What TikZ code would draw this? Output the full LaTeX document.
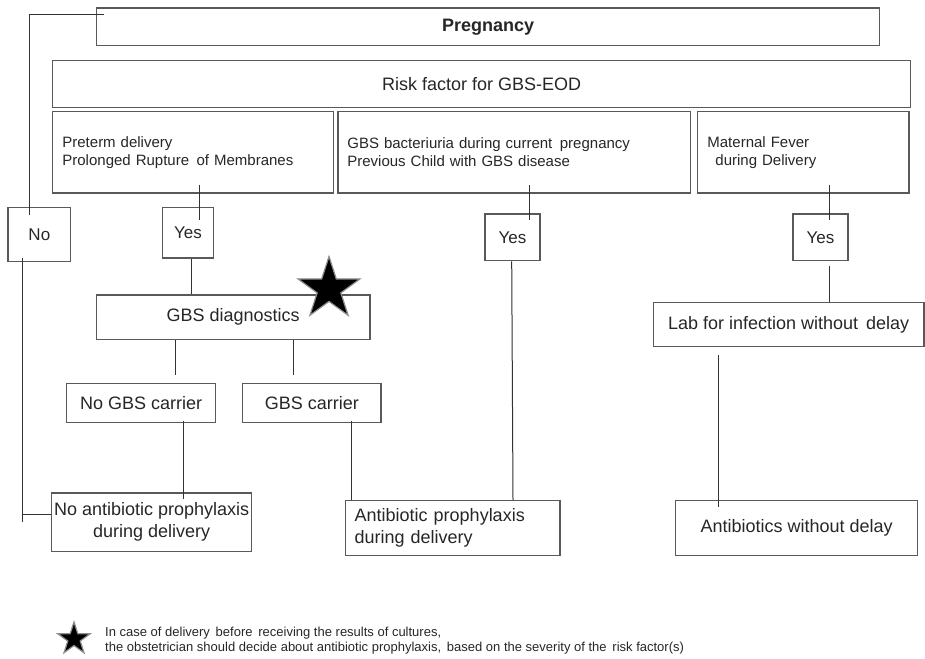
\documentclass[tikz,border=0pt]{standalone}
\usepackage{fontspec}
\setmainfont{Liberation Sans}
\usetikzlibrary{shapes.geometric}
\begin{document}
\begin{tikzpicture}[x=1pt,y=-1pt,
  box/.style={draw=black!65, line width=1.4pt, anchor=north west, inner sep=0pt,
    font=\fontsize{18}{22}\selectfont, text=black!85},
  topbox/.style={box, align=left, font=\fontsize{15}{18}\selectfont},
  conn/.style={draw=black!80, line width=1pt},
  starmark/.style={star, star points=5, star point ratio=2.618, inner sep=0pt,
    fill=black, draw=black!45, line width=1.2pt}
]
\useasboundingbox (0,0) rectangle (925,658);

% boxes
\node[box, minimum width=783.3pt, minimum height=37.7pt] (Preg) at (95.7,7.3) {\textbf{Pregnancy}};
\node[box, minimum width=858.3pt, minimum height=46.7pt] (Risk) at (51.7,60) {Risk factor for GBS-EOD};
\node[topbox, minimum width=281pt, minimum height=81.3pt, text width=261pt] (A) at (51.7,111)
  {Preterm delivery\\Prolonged Rupture \,of Membranes};
\node[topbox, minimum width=352.7pt, minimum height=81.6pt, text width=334pt] (B) at (337.3,110.7)
  {GBS bacteriuria during current \,pregnancy\\Previous Child with GBS disease};
\node[topbox, minimum width=211.6pt, minimum height=81.6pt, text width=191.6pt] (Cc) at (696.7,110.7)
  {Maternal Fever\\\hspace*{8pt}during Delivery};

\node[box, minimum width=62.7pt, minimum height=54.3pt, font=\fontsize{17}{20}\selectfont] (No) at (7.3,206.7) {No};
\node[box, minimum width=51pt, minimum height=50.6pt, font=\fontsize{17}{20}\selectfont] (Yes1) at (161.7,206.7) {Yes};
\node[box, minimum width=55pt, minimum height=46.7pt, font=\fontsize{17}{20}\selectfont] (Yes2) at (484.3,213.3) {Yes};
\node[box, minimum width=55pt, minimum height=46.7pt, font=\fontsize{17}{20}\selectfont] (Yes3) at (792.3,213.3) {Yes};

\node[box, minimum width=273.6pt, minimum height=44.4pt] (Diag) at (95.7,294.3) {GBS diagnostics};
\node[box, minimum width=149pt, minimum height=39pt] (NoC) at (66,382.7) {No GBS carrier};
\node[box, minimum width=138.3pt, minimum height=39pt] (C) at (242,382.7) {GBS carrier};
\node[box, minimum width=200pt, minimum height=58.4pt, align=center] (NoAB) at (51,492.3)
  {No antibiotic prophylaxis\\during delivery};
\node[box, minimum width=214.6pt, minimum height=55pt, text width=196pt, align=left] (AB) at (344.7,500)
  {Antibiotic prophylaxis\\during delivery};
\node[box, minimum width=270.6pt, minimum height=44pt] (Lab) at (652.7,301.7) {Lab for infection without \,delay};
\node[box, minimum width=241.7pt, minimum height=55pt] (AWD) at (675,500) {Antibiotics without delay};

% connectors
\draw[conn] ([shift={(8.6,7.7)}]Preg.north west) -| ([shift={(21.7,8.3)}]No.north west);
\draw[conn] ([shift={(15,-4.3)}]No.south west) -- ([shift={(-28.7,-30)}]NoAB.south west);
\draw[conn] ([shift={(-28.7,22)}]NoAB.north west) -- ([shift={(0,22)}]NoAB.north west);
\draw[conn] ([shift={(147.3,-9)}]A.south west) -- ([shift={(37.3,13.3)}]Yes1.north west);
\draw[conn] ([shift={(30,0)}]Yes1.south west) -- ([shift={(96,0)}]Diag.north west);
\draw[conn] ([shift={(80,0)}]Diag.south west) -- ([shift={(109.7,-7.7)}]NoC.north west);
\draw[conn] ([shift={(197.3,0)}]Diag.south west) -- ([shift={(51,-7.7)}]C.north west);
\draw[conn] ([shift={(117.3,-2.4)}]NoC.south west) -- ([shift={(132.3,6.7)}]NoAB.north west);
\draw[conn] ([shift={(109.7,-2.4)}]C.south west) -- ([shift={(7,0)}]AB.north west);
\draw[conn] ([shift={(191.7,-9)}]B.south west) -- ([shift={(44.7,6.7)}]Yes2.north west);
\draw[conn] ([shift={(27.4,0)}]Yes2.south west) -- ([shift={(168.3,0)}]AB.north west);
\draw[conn] ([shift={(132.3,-9)}]Cc.south west) -- ([shift={(36.7,6.7)}]Yes3.north west);
\draw[conn] ([shift={(36.7,5)}]Yes3.south west) -- ([shift={(176.3,0)}]Lab.north west);
\draw[conn] ([shift={(65.6,8.3)}]Lab.south west) -- ([shift={(43.3,6.7)}]AWD.north west);

% stars
\node[starmark, minimum size=65pt] (star) at (329,289) {};
\node[starmark, minimum size=34pt] (notestar) at (74,639) {};

% footnote
\node[anchor=west, inner sep=0pt, align=left, text=black!85,
  font=\fontsize{13}{15}\selectfont] (note) at (105,640.7)
  {In case of delivery \,before \,receiving the results of cultures,\\
   the obstetrician should decide about antibiotic prophylaxis, \,based on the severity of the \,risk factor(s)};
\end{tikzpicture}
\end{document}
